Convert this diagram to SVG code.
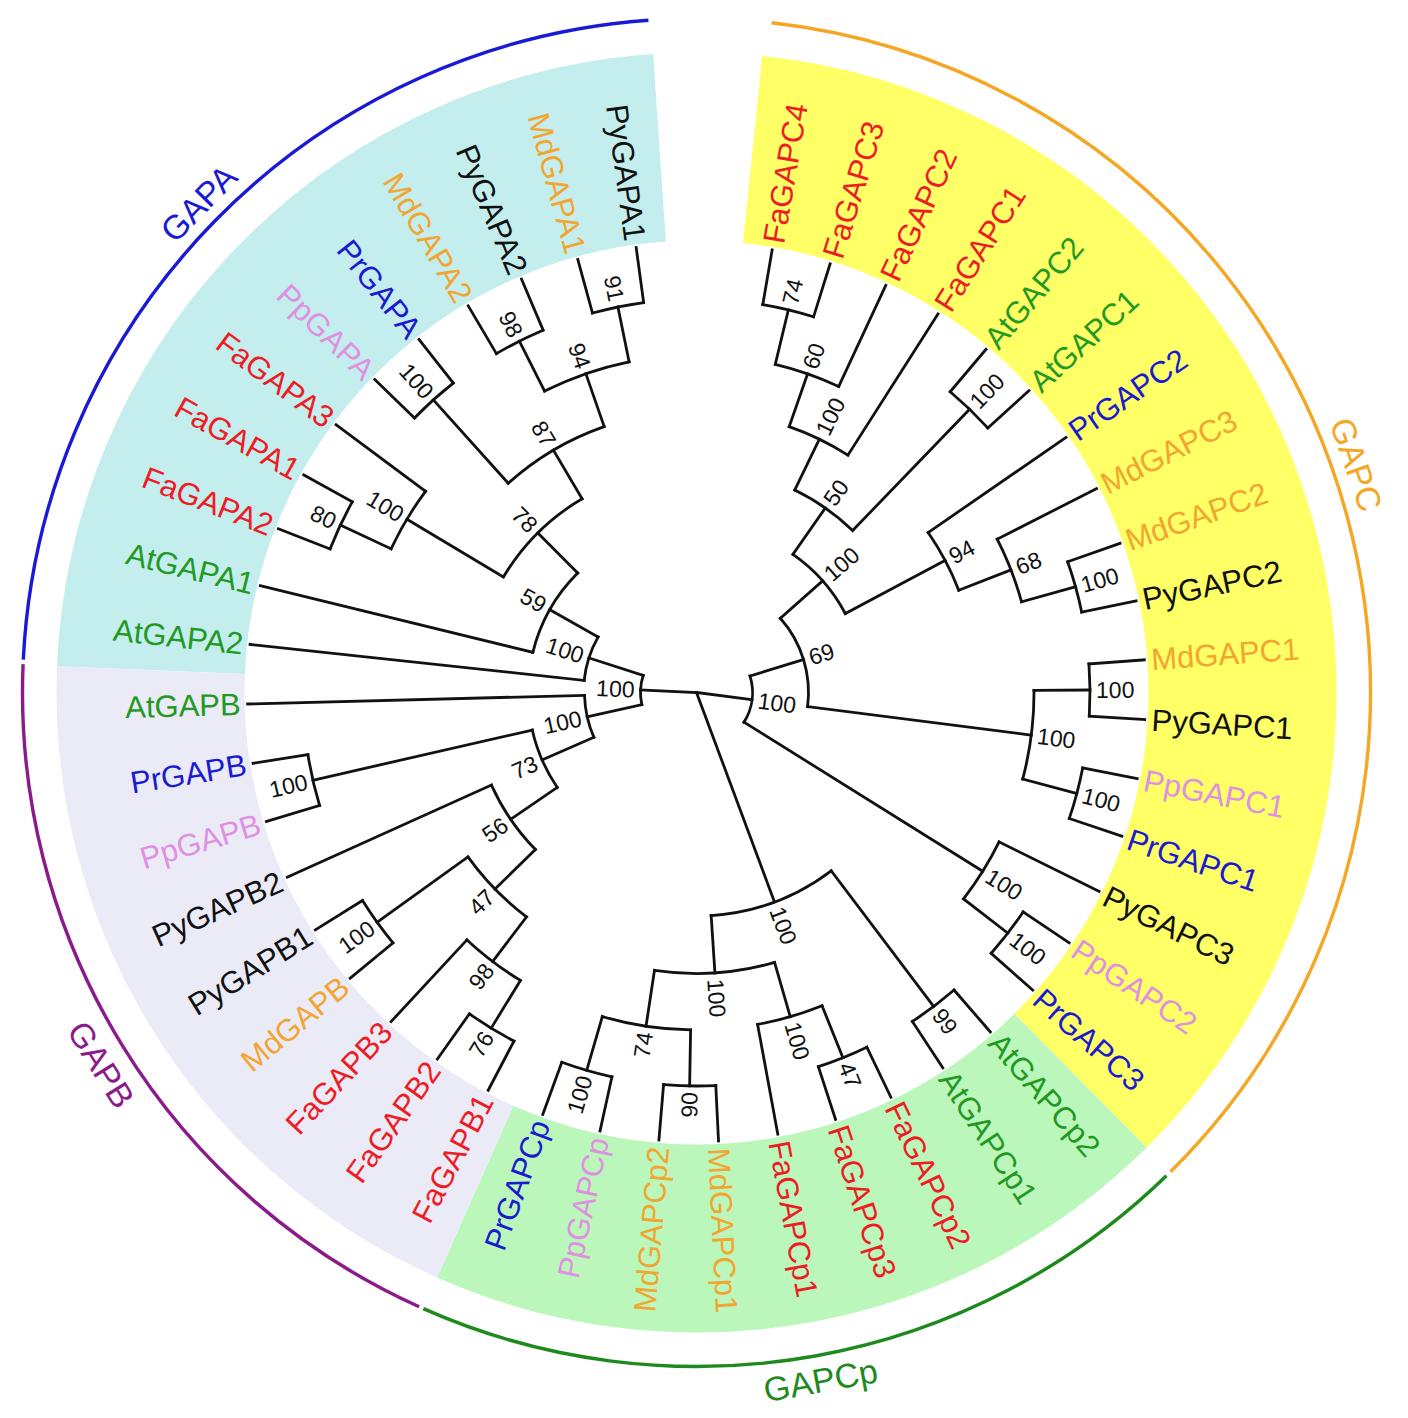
<svg xmlns="http://www.w3.org/2000/svg" width="1408" height="1418" viewBox="0 0 1408 1418">
<style>
text{font-family:"Liberation Sans",Arial,Helvetica,sans-serif}
.t line,.t circle{fill:none;stroke:#111;stroke-width:2.8;stroke-linecap:square}
.lf{font-size:31px}
.bs{font-size:23px;fill:#111}
.gl{font-size:34px}
.fa{fill:#ee1c25}.at{fill:#229922}.pr{fill:#1a1ad0}.pp{fill:#e090e0}.md{fill:#f2a531}.py{fill:#111}
.e{text-anchor:end}
</style>
<rect width="1408" height="1418" fill="#fff"/>
<g id="shading" fill="none" stroke-width="188" transform="translate(696.5,692.5)">
<circle r="546" stroke="#c4eeee" stroke-dasharray="798.1 4000" transform="rotate(182.35)"/>
<circle r="546" stroke="#ffff66" stroke-dasharray="1233.1 4000" transform="rotate(275.9)"/>
<circle r="546" stroke="#bbf7bb" stroke-dasharray="653.7 4000" transform="rotate(45.3)"/>
<circle r="546" stroke="#ebebf8" stroke-dasharray="652.3 4000" transform="rotate(113.9)"/>
</g>
<g id="group-arcs" fill="none" stroke-width="3.4" transform="translate(696.5,692.5)">
<circle r="674" stroke="#1a1ad6" stroke-dasharray="977.5 5000" transform="rotate(182.8)"/>
<circle r="674" stroke="#f5a623" stroke-dasharray="1516.3 5000" transform="rotate(276.4)"/>
<circle r="674" stroke="#1e8a1e" stroke-dasharray="801.1 5000" transform="rotate(45.8)"/>
<circle r="674" stroke="#8b1a8b" stroke-dasharray="801.1 5000" transform="rotate(114.3)"/>
</g>
<g id="group-labels" transform="translate(696.5,692.5)" class="gl" text-anchor="middle">
<text id="GAPA" fill="#1a1ad6" dy="0.35em" transform="rotate(224.5) translate(698,0) rotate(90)">GAPA</text>
<text id="GAPC" fill="#f5a623" dy="0.35em" transform="rotate(-19.06) translate(698,0) rotate(90)">GAPC</text>
<text id="GAPCp" fill="#1e8a1e" dy="0.35em" transform="rotate(79.77) translate(699,0) rotate(-90)">GAPCp</text>
<text id="GAPB" fill="#8b1a8b" dy="0.35em" transform="rotate(148) translate(702,0) rotate(-90)">GAPB</text>
</g>
<g id="connectors" class="t" transform="translate(696.5,692.5)">
<line x1="0" x2="56" transform="rotate(7.43)"/>
<line x1="0" x2="223.5" transform="rotate(69.58)"/>
<line x1="0" x2="56" transform="rotate(182.65)"/>
<line x1="56" x2="112" transform="rotate(-17.13)"/>
<line x1="56" x2="337.5" transform="rotate(31.99)"/>
<line x1="337.5" x2="393.5" transform="rotate(37.7)"/>
<line x1="112" x2="168.5" transform="rotate(-41.52)"/>
<line x1="112" x2="337.5" transform="rotate(7.25)"/>
<line x1="337.5" x2="393.5" transform="rotate(-0.365)"/>
<line x1="337.5" x2="393.5" transform="rotate(14.865)"/>
<line x1="168.5" x2="225" transform="rotate(-55.08)"/>
<line x1="168.5" x2="281.5" transform="rotate(-27.96)"/>
<line x1="225" x2="281.5" transform="rotate(-64.12)"/>
<line x1="225" x2="393.5" transform="rotate(-46.05)"/>
<line x1="281.5" x2="337.5" transform="rotate(-70.78)"/>
<line x1="337.5" x2="393.5" transform="rotate(-76.5)"/>
<line x1="281.5" x2="337.5" transform="rotate(-21.3)"/>
<line x1="337.5" x2="393.5" transform="rotate(-15.59)"/>
<line x1="223.5" x2="393.5" transform="rotate(52.93)"/>
<line x1="223.5" x2="281" transform="rotate(86.24)"/>
<line x1="281" x2="337.5" transform="rotate(73.87)"/>
<line x1="337.5" x2="393.5" transform="rotate(68.16)"/>
<line x1="281" x2="337.5" transform="rotate(98.6)"/>
<line x1="337.5" x2="393.5" transform="rotate(91)"/>
<line x1="337.5" x2="393.5" transform="rotate(106.2)"/>
<line x1="56" x2="112" transform="rotate(167.48)"/>
<line x1="56" x2="113" transform="rotate(197.81)"/>
<line x1="112" x2="168.5" transform="rotate(156.42)"/>
<line x1="168.5" x2="393.5" transform="rotate(167.12)"/>
<line x1="168.5" x2="225" transform="rotate(145.71)"/>
<line x1="225" x2="281.5" transform="rotate(135.72)"/>
<line x1="281.5" x2="393.5" transform="rotate(144.28)"/>
<line x1="281.5" x2="337.5" transform="rotate(127.15)"/>
<line x1="337.5" x2="393.5" transform="rotate(121.45)"/>
<line x1="113" x2="168.5" transform="rotate(209.47)"/>
<line x1="168.5" x2="225" transform="rotate(225.17)"/>
<line x1="225" x2="337.5" transform="rotate(210.9)"/>
<line x1="337.5" x2="393.5" transform="rotate(205.19)"/>
<line x1="225" x2="281.5" transform="rotate(239.44)"/>
<line x1="281.5" x2="393.5" transform="rotate(228.03)"/>
<line x1="281.5" x2="337.5" transform="rotate(250.86)"/>
<line x1="337.5" x2="393.5" transform="rotate(243.25)"/>
<line x1="337.5" x2="393.5" transform="rotate(258.48)"/>
<line x1="393.5" x2="449" transform="rotate(-80.3)"/>
<line x1="393.5" x2="449" transform="rotate(-72.69)"/>
<line x1="337.5" x2="449" transform="rotate(-65.07)"/>
<line x1="281.5" x2="449" transform="rotate(-57.46)"/>
<line x1="393.5" x2="449" transform="rotate(-49.85)"/>
<line x1="393.5" x2="449" transform="rotate(-42.24)"/>
<line x1="281.5" x2="449" transform="rotate(-34.62)"/>
<line x1="337.5" x2="449" transform="rotate(-27.01)"/>
<line x1="393.5" x2="449" transform="rotate(-19.4)"/>
<line x1="393.5" x2="449" transform="rotate(-11.78)"/>
<line x1="393.5" x2="449" transform="rotate(-4.17)"/>
<line x1="393.5" x2="449" transform="rotate(3.44)"/>
<line x1="393.5" x2="449" transform="rotate(11.06)"/>
<line x1="393.5" x2="449" transform="rotate(18.67)"/>
<line x1="337.5" x2="449" transform="rotate(26.28)"/>
<line x1="393.5" x2="449" transform="rotate(33.9)"/>
<line x1="393.5" x2="449" transform="rotate(41.51)"/>
<line x1="393.5" x2="449" transform="rotate(49.12)"/>
<line x1="393.5" x2="449" transform="rotate(56.73)"/>
<line x1="393.5" x2="449" transform="rotate(64.35)"/>
<line x1="393.5" x2="449" transform="rotate(71.96)"/>
<line x1="337.5" x2="449" transform="rotate(79.57)"/>
<line x1="393.5" x2="449" transform="rotate(87.19)"/>
<line x1="393.5" x2="449" transform="rotate(94.8)"/>
<line x1="393.5" x2="449" transform="rotate(102.41)"/>
<line x1="393.5" x2="449" transform="rotate(110.02)"/>
<line x1="393.5" x2="449" transform="rotate(117.64)"/>
<line x1="393.5" x2="449" transform="rotate(125.25)"/>
<line x1="337.5" x2="449" transform="rotate(132.86)"/>
<line x1="393.5" x2="449" transform="rotate(140.48)"/>
<line x1="393.5" x2="449" transform="rotate(148.09)"/>
<line x1="225" x2="449" transform="rotate(155.7)"/>
<line x1="393.5" x2="449" transform="rotate(163.31)"/>
<line x1="393.5" x2="449" transform="rotate(170.93)"/>
<line x1="112" x2="449" transform="rotate(178.54)"/>
<line x1="113" x2="449" transform="rotate(186.15)"/>
<line x1="168.5" x2="449" transform="rotate(193.77)"/>
<line x1="393.5" x2="449" transform="rotate(201.38)"/>
<line x1="393.5" x2="449" transform="rotate(208.99)"/>
<line x1="337.5" x2="449" transform="rotate(216.6)"/>
<line x1="393.5" x2="449" transform="rotate(224.22)"/>
<line x1="393.5" x2="449" transform="rotate(231.83)"/>
<line x1="393.5" x2="449" transform="rotate(239.44)"/>
<line x1="393.5" x2="449" transform="rotate(247.06)"/>
<line x1="393.5" x2="449" transform="rotate(254.67)"/>
<line x1="393.5" x2="449" transform="rotate(262.28)"/>
<circle r="56" stroke-dasharray="48.01 5000" transform="rotate(-17.13)"/>
<circle r="112" stroke-dasharray="95.33 5000" transform="rotate(-41.52)"/>
<circle r="337.5" stroke-dasharray="67.27 5000" transform="rotate(26.28)"/>
<circle r="393.5" stroke-dasharray="52.27 5000" transform="rotate(33.9)"/>
<circle r="168.5" stroke-dasharray="79.76 5000" transform="rotate(-55.08)"/>
<circle r="337.5" stroke-dasharray="89.71 5000" transform="rotate(-0.365)"/>
<circle r="393.5" stroke-dasharray="52.27 5000" transform="rotate(-4.17)"/>
<circle r="393.5" stroke-dasharray="52.27 5000" transform="rotate(11.06)"/>
<circle r="225" stroke-dasharray="70.96 5000" transform="rotate(-64.12)"/>
<circle r="281.5" stroke-dasharray="65.44 5000" transform="rotate(-34.62)"/>
<circle r="281.5" stroke-dasharray="65.44 5000" transform="rotate(-70.78)"/>
<circle r="393.5" stroke-dasharray="52.27 5000" transform="rotate(-49.85)"/>
<circle r="337.5" stroke-dasharray="67.33 5000" transform="rotate(-76.5)"/>
<circle r="393.5" stroke-dasharray="52.27 5000" transform="rotate(-80.3)"/>
<circle r="337.5" stroke-dasharray="67.27 5000" transform="rotate(-27.01)"/>
<circle r="393.5" stroke-dasharray="52.27 5000" transform="rotate(-19.4)"/>
<circle r="223.5" stroke-dasharray="129.94 5000" transform="rotate(52.93)"/>
<circle r="393.5" stroke-dasharray="52.27 5000" transform="rotate(49.12)"/>
<circle r="281" stroke-dasharray="121.28 5000" transform="rotate(73.87)"/>
<circle r="337.5" stroke-dasharray="67.21 5000" transform="rotate(68.16)"/>
<circle r="393.5" stroke-dasharray="52.27 5000" transform="rotate(64.35)"/>
<circle r="337.5" stroke-dasharray="89.54 5000" transform="rotate(91)"/>
<circle r="393.5" stroke-dasharray="52.27 5000" transform="rotate(87.19)"/>
<circle r="393.5" stroke-dasharray="52.27 5000" transform="rotate(102.41)"/>
<circle r="56" stroke-dasharray="29.64 5000" transform="rotate(167.48)"/>
<circle r="112" stroke-dasharray="43.24 5000" transform="rotate(156.42)"/>
<circle r="168.5" stroke-dasharray="62.96 5000" transform="rotate(145.71)"/>
<circle r="393.5" stroke-dasharray="52.27 5000" transform="rotate(163.31)"/>
<circle r="225" stroke-dasharray="78.46 5000" transform="rotate(135.72)"/>
<circle r="281.5" stroke-dasharray="84.16 5000" transform="rotate(127.15)"/>
<circle r="393.5" stroke-dasharray="52.27 5000" transform="rotate(140.48)"/>
<circle r="337.5" stroke-dasharray="67.21 5000" transform="rotate(121.45)"/>
<circle r="393.5" stroke-dasharray="52.27 5000" transform="rotate(117.64)"/>
<circle r="113" stroke-dasharray="45.99 5000" transform="rotate(186.15)"/>
<circle r="168.5" stroke-dasharray="92.34 5000" transform="rotate(193.77)"/>
<circle r="225" stroke-dasharray="112.08 5000" transform="rotate(210.9)"/>
<circle r="337.5" stroke-dasharray="67.21 5000" transform="rotate(205.19)"/>
<circle r="393.5" stroke-dasharray="52.27 5000" transform="rotate(201.38)"/>
<circle r="281.5" stroke-dasharray="112.17 5000" transform="rotate(228.03)"/>
<circle r="393.5" stroke-dasharray="52.27 5000" transform="rotate(224.22)"/>
<circle r="337.5" stroke-dasharray="89.71 5000" transform="rotate(243.25)"/>
<circle r="393.5" stroke-dasharray="52.27 5000" transform="rotate(239.44)"/>
<circle r="393.5" stroke-dasharray="52.27 5000" transform="rotate(254.67)"/>
</g>
<g id="bootstrap" class="bs" transform="translate(696.5,692.5)">
<text id="bs-n1" dy="0.35em" transform="rotate(7.43) translate(62,0)">100</text>
<text id="bs-n2" dy="0.35em" transform="rotate(-17.13) translate(118,0)">69</text>
<text id="bs-n3" dy="0.35em" transform="rotate(31.99) translate(343.5,0)">100</text>
<text id="bs-n4" dy="0.35em" transform="rotate(37.7) translate(399.5,0)">100</text>
<text id="bs-n5" dy="0.35em" transform="rotate(-41.52) translate(174.5,0)">100</text>
<text id="bs-n6" dy="0.35em" transform="rotate(7.25) translate(343.5,0)">100</text>
<text id="bs-n7" dy="0.35em" transform="rotate(-0.365) translate(399.5,0)">100</text>
<text id="bs-n8" dy="0.35em" transform="rotate(14.865) translate(399.5,0)">100</text>
<text id="bs-n9" dy="0.35em" transform="rotate(-55.08) translate(231,0)">50</text>
<text id="bs-n10" dy="0.35em" transform="rotate(-27.96) translate(287.5,0)">94</text>
<text id="bs-n11" dy="0.35em" transform="rotate(-64.12) translate(287.5,0)">100</text>
<text id="bs-n12" dy="0.35em" transform="rotate(-46.05) translate(399.5,0)">100</text>
<text id="bs-n13" dy="0.35em" transform="rotate(-70.78) translate(343.5,0)">60</text>
<text id="bs-n14" dy="0.35em" transform="rotate(-76.5) translate(399.5,0)">74</text>
<text id="bs-n15" dy="0.35em" transform="rotate(-21.3) translate(343.5,0)">68</text>
<text id="bs-n16" dy="0.35em" transform="rotate(-15.59) translate(399.5,0)">100</text>
<text id="bs-n17" dy="0.35em" transform="rotate(69.58) translate(229.5,0)">100</text>
<text id="bs-n18" dy="0.35em" transform="rotate(52.93) translate(399.5,0)">99</text>
<text id="bs-n19" dy="0.35em" transform="rotate(86.24) translate(287,0)">100</text>
<text id="bs-n20" dy="0.35em" transform="rotate(73.87) translate(343.5,0)">100</text>
<text id="bs-n21" dy="0.35em" transform="rotate(68.16) translate(399.5,0)">47</text>
<text id="bs-n22" class="e" dy="0.35em" transform="rotate(-81.4) translate(-343.5,0)">74</text>
<text id="bs-n23" class="e" dy="0.35em" transform="rotate(-89) translate(-399.5,0)">90</text>
<text id="bs-n24" class="e" dy="0.35em" transform="rotate(-73.8) translate(-399.5,0)">100</text>
<text id="bs-n25" class="e" dy="0.35em" transform="rotate(2.65) translate(-62,0)">100</text>
<text id="bs-n26" class="e" dy="0.35em" transform="rotate(-12.52) translate(-118,0)">100</text>
<text id="bs-n27" class="e" dy="0.35em" transform="rotate(-23.58) translate(-174.5,0)">73</text>
<text id="bs-n28" class="e" dy="0.35em" transform="rotate(-12.88) translate(-399.5,0)">100</text>
<text id="bs-n29" class="e" dy="0.35em" transform="rotate(-34.29) translate(-231,0)">56</text>
<text id="bs-n30" class="e" dy="0.35em" transform="rotate(-44.28) translate(-287.5,0)">47</text>
<text id="bs-n31" class="e" dy="0.35em" transform="rotate(-35.72) translate(-399.5,0)">100</text>
<text id="bs-n32" class="e" dy="0.35em" transform="rotate(-52.85) translate(-343.5,0)">98</text>
<text id="bs-n33" class="e" dy="0.35em" transform="rotate(-58.55) translate(-399.5,0)">76</text>
<text id="bs-n34" class="e" dy="0.35em" transform="rotate(17.81) translate(-119,0)">100</text>
<text id="bs-n35" class="e" dy="0.35em" transform="rotate(29.47) translate(-174.5,0)">59</text>
<text id="bs-n36" class="e" dy="0.35em" transform="rotate(45.17) translate(-231,0)">78</text>
<text id="bs-n37" class="e" dy="0.35em" transform="rotate(30.9) translate(-343.5,0)">100</text>
<text id="bs-n38" class="e" dy="0.35em" transform="rotate(25.19) translate(-399.5,0)">80</text>
<text id="bs-n39" class="e" dy="0.35em" transform="rotate(59.44) translate(-287.5,0)">87</text>
<text id="bs-n40" class="e" dy="0.35em" transform="rotate(48.03) translate(-399.5,0)">100</text>
<text id="bs-n41" class="e" dy="0.35em" transform="rotate(70.86) translate(-343.5,0)">94</text>
<text id="bs-n42" class="e" dy="0.35em" transform="rotate(63.25) translate(-399.5,0)">98</text>
<text id="bs-n43" class="e" dy="0.35em" transform="rotate(78.48) translate(-399.5,0)">91</text>
</g>
<g id="leaves" class="lf" transform="translate(696.5,692.5)">
<g id="leaf-FaGAPC4"><text class="fa" dy="0.35em" transform="rotate(-80.3) translate(456,0)">FaGAPC4</text></g>
<g id="leaf-FaGAPC3"><text class="fa" dy="0.35em" transform="rotate(-72.69) translate(456,0)">FaGAPC3</text></g>
<g id="leaf-FaGAPC2"><text class="fa" dy="0.35em" transform="rotate(-65.07) translate(456,0)">FaGAPC2</text></g>
<g id="leaf-FaGAPC1"><text class="fa" dy="0.35em" transform="rotate(-57.46) translate(456,0)">FaGAPC1</text></g>
<g id="leaf-AtGAPC2"><text class="at" dy="0.35em" transform="rotate(-49.85) translate(456,0)">AtGAPC2</text></g>
<g id="leaf-AtGAPC1"><text class="at" dy="0.35em" transform="rotate(-42.24) translate(456,0)">AtGAPC1</text></g>
<g id="leaf-PrGAPC2"><text class="pr" dy="0.35em" transform="rotate(-34.62) translate(456,0)">PrGAPC2</text></g>
<g id="leaf-MdGAPC3"><text class="md" dy="0.35em" transform="rotate(-27.01) translate(456,0)">MdGAPC3</text></g>
<g id="leaf-MdGAPC2"><text class="md" dy="0.35em" transform="rotate(-19.4) translate(456,0)">MdGAPC2</text></g>
<g id="leaf-PyGAPC2"><text class="py" dy="0.35em" transform="rotate(-11.78) translate(456,0)">PyGAPC2</text></g>
<g id="leaf-MdGAPC1"><text class="md" dy="0.35em" transform="rotate(-4.17) translate(456,0)">MdGAPC1</text></g>
<g id="leaf-PyGAPC1"><text class="py" dy="0.35em" transform="rotate(3.44) translate(456,0)">PyGAPC1</text></g>
<g id="leaf-PpGAPC1"><text class="pp" dy="0.35em" transform="rotate(11.06) translate(456,0)">PpGAPC1</text></g>
<g id="leaf-PrGAPC1"><text class="pr" dy="0.35em" transform="rotate(18.67) translate(456,0)">PrGAPC1</text></g>
<g id="leaf-PyGAPC3"><text class="py" dy="0.35em" transform="rotate(26.28) translate(456,0)">PyGAPC3</text></g>
<g id="leaf-PpGAPC2"><text class="pp" dy="0.35em" transform="rotate(33.9) translate(456,0)">PpGAPC2</text></g>
<g id="leaf-PrGAPC3"><text class="pr" dy="0.35em" transform="rotate(41.51) translate(456,0)">PrGAPC3</text></g>
<g id="leaf-AtGAPCp2"><text class="at" dy="0.35em" transform="rotate(49.12) translate(456,0)">AtGAPCp2</text></g>
<g id="leaf-AtGAPCp1"><text class="at" dy="0.35em" transform="rotate(56.73) translate(456,0)">AtGAPCp1</text></g>
<g id="leaf-FaGAPCp2"><text class="fa" dy="0.35em" transform="rotate(64.35) translate(456,0)">FaGAPCp2</text></g>
<g id="leaf-FaGAPCp3"><text class="fa" dy="0.35em" transform="rotate(71.96) translate(456,0)">FaGAPCp3</text></g>
<g id="leaf-FaGAPCp1"><text class="fa" dy="0.35em" transform="rotate(79.57) translate(456,0)">FaGAPCp1</text></g>
<g id="leaf-MdGAPCp1"><text class="md" dy="0.35em" transform="rotate(87.19) translate(456,0)">MdGAPCp1</text></g>
<g id="leaf-MdGAPCp2"><text class="md e" dy="0.35em" transform="rotate(-85.2) translate(-456,0)">MdGAPCp2</text></g>
<g id="leaf-PpGAPCp"><text class="pp e" dy="0.35em" transform="rotate(-77.59) translate(-456,0)">PpGAPCp</text></g>
<g id="leaf-PrGAPCp"><text class="pr e" dy="0.35em" transform="rotate(-69.98) translate(-456,0)">PrGAPCp</text></g>
<g id="leaf-FaGAPB1"><text class="fa e" dy="0.35em" transform="rotate(-62.36) translate(-456,0)">FaGAPB1</text></g>
<g id="leaf-FaGAPB2"><text class="fa e" dy="0.35em" transform="rotate(-54.75) translate(-456,0)">FaGAPB2</text></g>
<g id="leaf-FaGAPB3"><text class="fa e" dy="0.35em" transform="rotate(-47.14) translate(-456,0)">FaGAPB3</text></g>
<g id="leaf-MdGAPB"><text class="md e" dy="0.35em" transform="rotate(-39.52) translate(-456,0)">MdGAPB</text></g>
<g id="leaf-PyGAPB1"><text class="py e" dy="0.35em" transform="rotate(-31.91) translate(-456,0)">PyGAPB1</text></g>
<g id="leaf-PyGAPB2"><text class="py e" dy="0.35em" transform="rotate(-24.3) translate(-456,0)">PyGAPB2</text></g>
<g id="leaf-PpGAPB"><text class="pp e" dy="0.35em" transform="rotate(-16.69) translate(-456,0)">PpGAPB</text></g>
<g id="leaf-PrGAPB"><text class="pr e" dy="0.35em" transform="rotate(-9.07) translate(-456,0)">PrGAPB</text></g>
<g id="leaf-AtGAPB"><text class="at e" dy="0.35em" transform="rotate(-1.46) translate(-456,0)">AtGAPB</text></g>
<g id="leaf-AtGAPA2"><text class="at e" dy="0.35em" transform="rotate(6.15) translate(-456,0)">AtGAPA2</text></g>
<g id="leaf-AtGAPA1"><text class="at e" dy="0.35em" transform="rotate(13.77) translate(-456,0)">AtGAPA1</text></g>
<g id="leaf-FaGAPA2"><text class="fa e" dy="0.35em" transform="rotate(21.38) translate(-456,0)">FaGAPA2</text></g>
<g id="leaf-FaGAPA1"><text class="fa e" dy="0.35em" transform="rotate(28.99) translate(-456,0)">FaGAPA1</text></g>
<g id="leaf-FaGAPA3"><text class="fa e" dy="0.35em" transform="rotate(36.6) translate(-456,0)">FaGAPA3</text></g>
<g id="leaf-PpGAPA"><text class="pp e" dy="0.35em" transform="rotate(44.22) translate(-456,0)">PpGAPA</text></g>
<g id="leaf-PrGAPA"><text class="pr e" dy="0.35em" transform="rotate(51.83) translate(-456,0)">PrGAPA</text></g>
<g id="leaf-MdGAPA2"><text class="md e" dy="0.35em" transform="rotate(59.44) translate(-456,0)">MdGAPA2</text></g>
<g id="leaf-PyGAPA2"><text class="py e" dy="0.35em" transform="rotate(67.06) translate(-456,0)">PyGAPA2</text></g>
<g id="leaf-MdGAPA1"><text class="md e" dy="0.35em" transform="rotate(74.67) translate(-456,0)">MdGAPA1</text></g>
<g id="leaf-PyGAPA1"><text class="py e" dy="0.35em" transform="rotate(82.28) translate(-456,0)">PyGAPA1</text></g>
</g>
</svg>
